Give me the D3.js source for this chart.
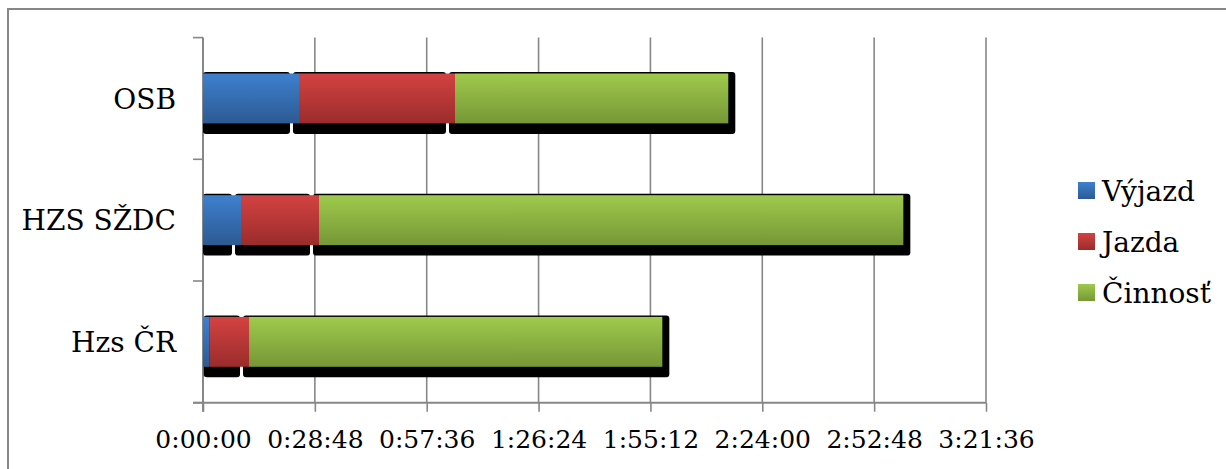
<!DOCTYPE html>
<html lang="en">
<head>
<meta charset="utf-8">
<title>Výjazd / Jazda / Činnosť</title>
<script src="https://cdnjs.cloudflare.com/ajax/libs/d3/7.8.5/d3.min.js"></script>
<style>
  body { margin: 0; background: #fff; }
  svg { display: block; }
  svg text { font-family: "DejaVu Serif", serif !important; fill: #000; }
</style>
</head>
<body>
<div id="chart"></div>
<script>
// data (seconds)
const categories = ["OSB", "HZS SŽDC", "Hzs ČR"];
const seriesNames = ["Výjazd", "Jazda", "Činnosť"];
const vyjazd = [1483, 587, 104];
const jazda = [2410, 1205, 607];
const cinnost = [4222, 9027, 6385];
const tickValues = [0, 1728, 3456, 5184, 6912, 8640, 10368, 12096];

const width = 1226, height = 469;
const plotLeft = 203, plotRight = 986, plotTop = 37.6, plotBottom = 402.7;
const colors = [["#3e80cf", "#2c5a93"], ["#d44242", "#9a2c2b"], ["#9fca4c", "#769736"]];
const grid = "#878787";
const fsTick = 25, fsLabel = 28;

const svg = d3.select("#chart").append("svg")
  .attr("width", width).attr("height", height);

const defs = svg.append("defs");
colors.forEach((c, i) => {
  const g = defs.append("linearGradient").attr("id", "g" + i)
    .attr("x1", 0).attr("y1", 0).attr("x2", 0).attr("y2", 1);
  g.append("stop").attr("offset", "0%").attr("stop-color", c[0]);
  g.append("stop").attr("offset", "100%").attr("stop-color", c[1]);
});

// outer frame
svg.append("rect")
  .attr("x", 8).attr("y", 9).attr("width", 1240).attr("height", 480)
  .attr("fill", "none").attr("stroke", grid).attr("stroke-width", 2);

const x = d3.scaleLinear().domain([0, 12096]).range([plotLeft, plotRight]);
const y = d3.scaleBand().domain(categories).range([plotTop, plotBottom]).paddingInner(0.59).paddingOuter(0.295);
const yEdge = d3.scaleBand().domain(categories).range([plotTop, plotBottom]);

const fmt = s => {
  const h = Math.floor(s / 3600), m = Math.floor(s % 3600 / 60), sec = Math.round(s % 60);
  return h + ":" + String(m).padStart(2, "0") + ":" + String(sec).padStart(2, "0");
};

// vertical gridlines
svg.append("g").selectAll("line")
  .data(tickValues.slice(1))
  .join("line")
  .attr("x1", d => x(d)).attr("x2", d => x(d))
  .attr("y1", plotTop).attr("y2", plotBottom)
  .attr("stroke", grid).attr("stroke-width", 1.6);

// x axis
const xAxis = d3.axisBottom(x).tickValues(tickValues).tickFormat(fmt).tickSize(9).tickSizeOuter(0);
const gx = svg.append("g").attr("transform", `translate(0,${plotBottom})`).call(xAxis);
gx.select(".domain").attr("stroke", grid).attr("stroke-width", 2).attr("d", `M${plotLeft - 10},0H${plotRight}`);
gx.selectAll(".tick line").attr("stroke", grid).attr("stroke-width", 1.6);
gx.selectAll(".tick text").attr("font-size", fsTick).attr("y", 28).attr("dy", "0.71em");

// y axis line + category ticks
svg.append("line").attr("x1", plotLeft).attr("x2", plotLeft).attr("y1", plotTop).attr("y2", plotBottom + 9)
  .attr("stroke", grid).attr("stroke-width", 2);
const edges = categories.map(c => yEdge(c)).concat([plotBottom]);
svg.append("g").selectAll("line").data(edges).join("line")
  .attr("x1", plotLeft - 10).attr("x2", plotLeft).attr("y1", d => d).attr("y2", d => d)
  .attr("stroke", grid).attr("stroke-width", 1.6);

svg.append("g").selectAll("text").data(categories).join("text")
  .attr("x", 176).attr("y", d => y(d) + y.bandwidth() / 2)
  .attr("dy", "0.36em").attr("text-anchor", "end").attr("font-size", fsLabel)
  .text(d => d);

// stacked bars
const table = categories.map((c, i) => ({ cat: c, "Výjazd": vyjazd[i], "Jazda": jazda[i], "Činnosť": cinnost[i] }));
const stack = d3.stack().keys(seriesNames)(table);
const last = seriesNames.length - 1;

// shadows
stack.forEach((layer, si) => {
  svg.append("g").selectAll("rect").data(layer).join("rect")
    .attr("x", d => si === 0 ? x(d[0]) : x(d[0]) - 6)
    .attr("width", d => {
      const x0 = si === 0 ? x(d[0]) : x(d[0]) - 6;
      const x1 = si === last ? x(d[1]) + 7 : x(d[1]) - 9;
      return Math.max(0, x1 - x0);
    })
    .attr("y", d => y(d.data.cat) - 1.5)
    .attr("height", y.bandwidth() + 12)
    .attr("rx", 3)
    .attr("fill", "#000");
});

// segments
stack.forEach((layer, si) => {
  svg.append("g").selectAll("rect").data(layer).join("rect")
    .attr("x", d => x(d[0]))
    .attr("width", d => x(d[1]) - x(d[0]))
    .attr("y", d => y(d.data.cat))
    .attr("height", y.bandwidth())
    .attr("fill", `url(#g${si})`);
});

// legend
const legend = svg.append("g").attr("transform", "translate(1078,190.5)");
const items = legend.selectAll("g").data(seriesNames).join("g")
  .attr("transform", (d, i) => `translate(0,${i * 51})`);
items.append("rect").attr("x", 0).attr("y", -8.5).attr("width", 17).attr("height", 17)
  .attr("fill", (d, i) => `url(#g${i})`);
items.append("text").attr("x", 24).attr("y", 0).attr("dy", "0.36em")
  .attr("font-size", fsLabel).text(d => d);
</script>
</body>
</html>
